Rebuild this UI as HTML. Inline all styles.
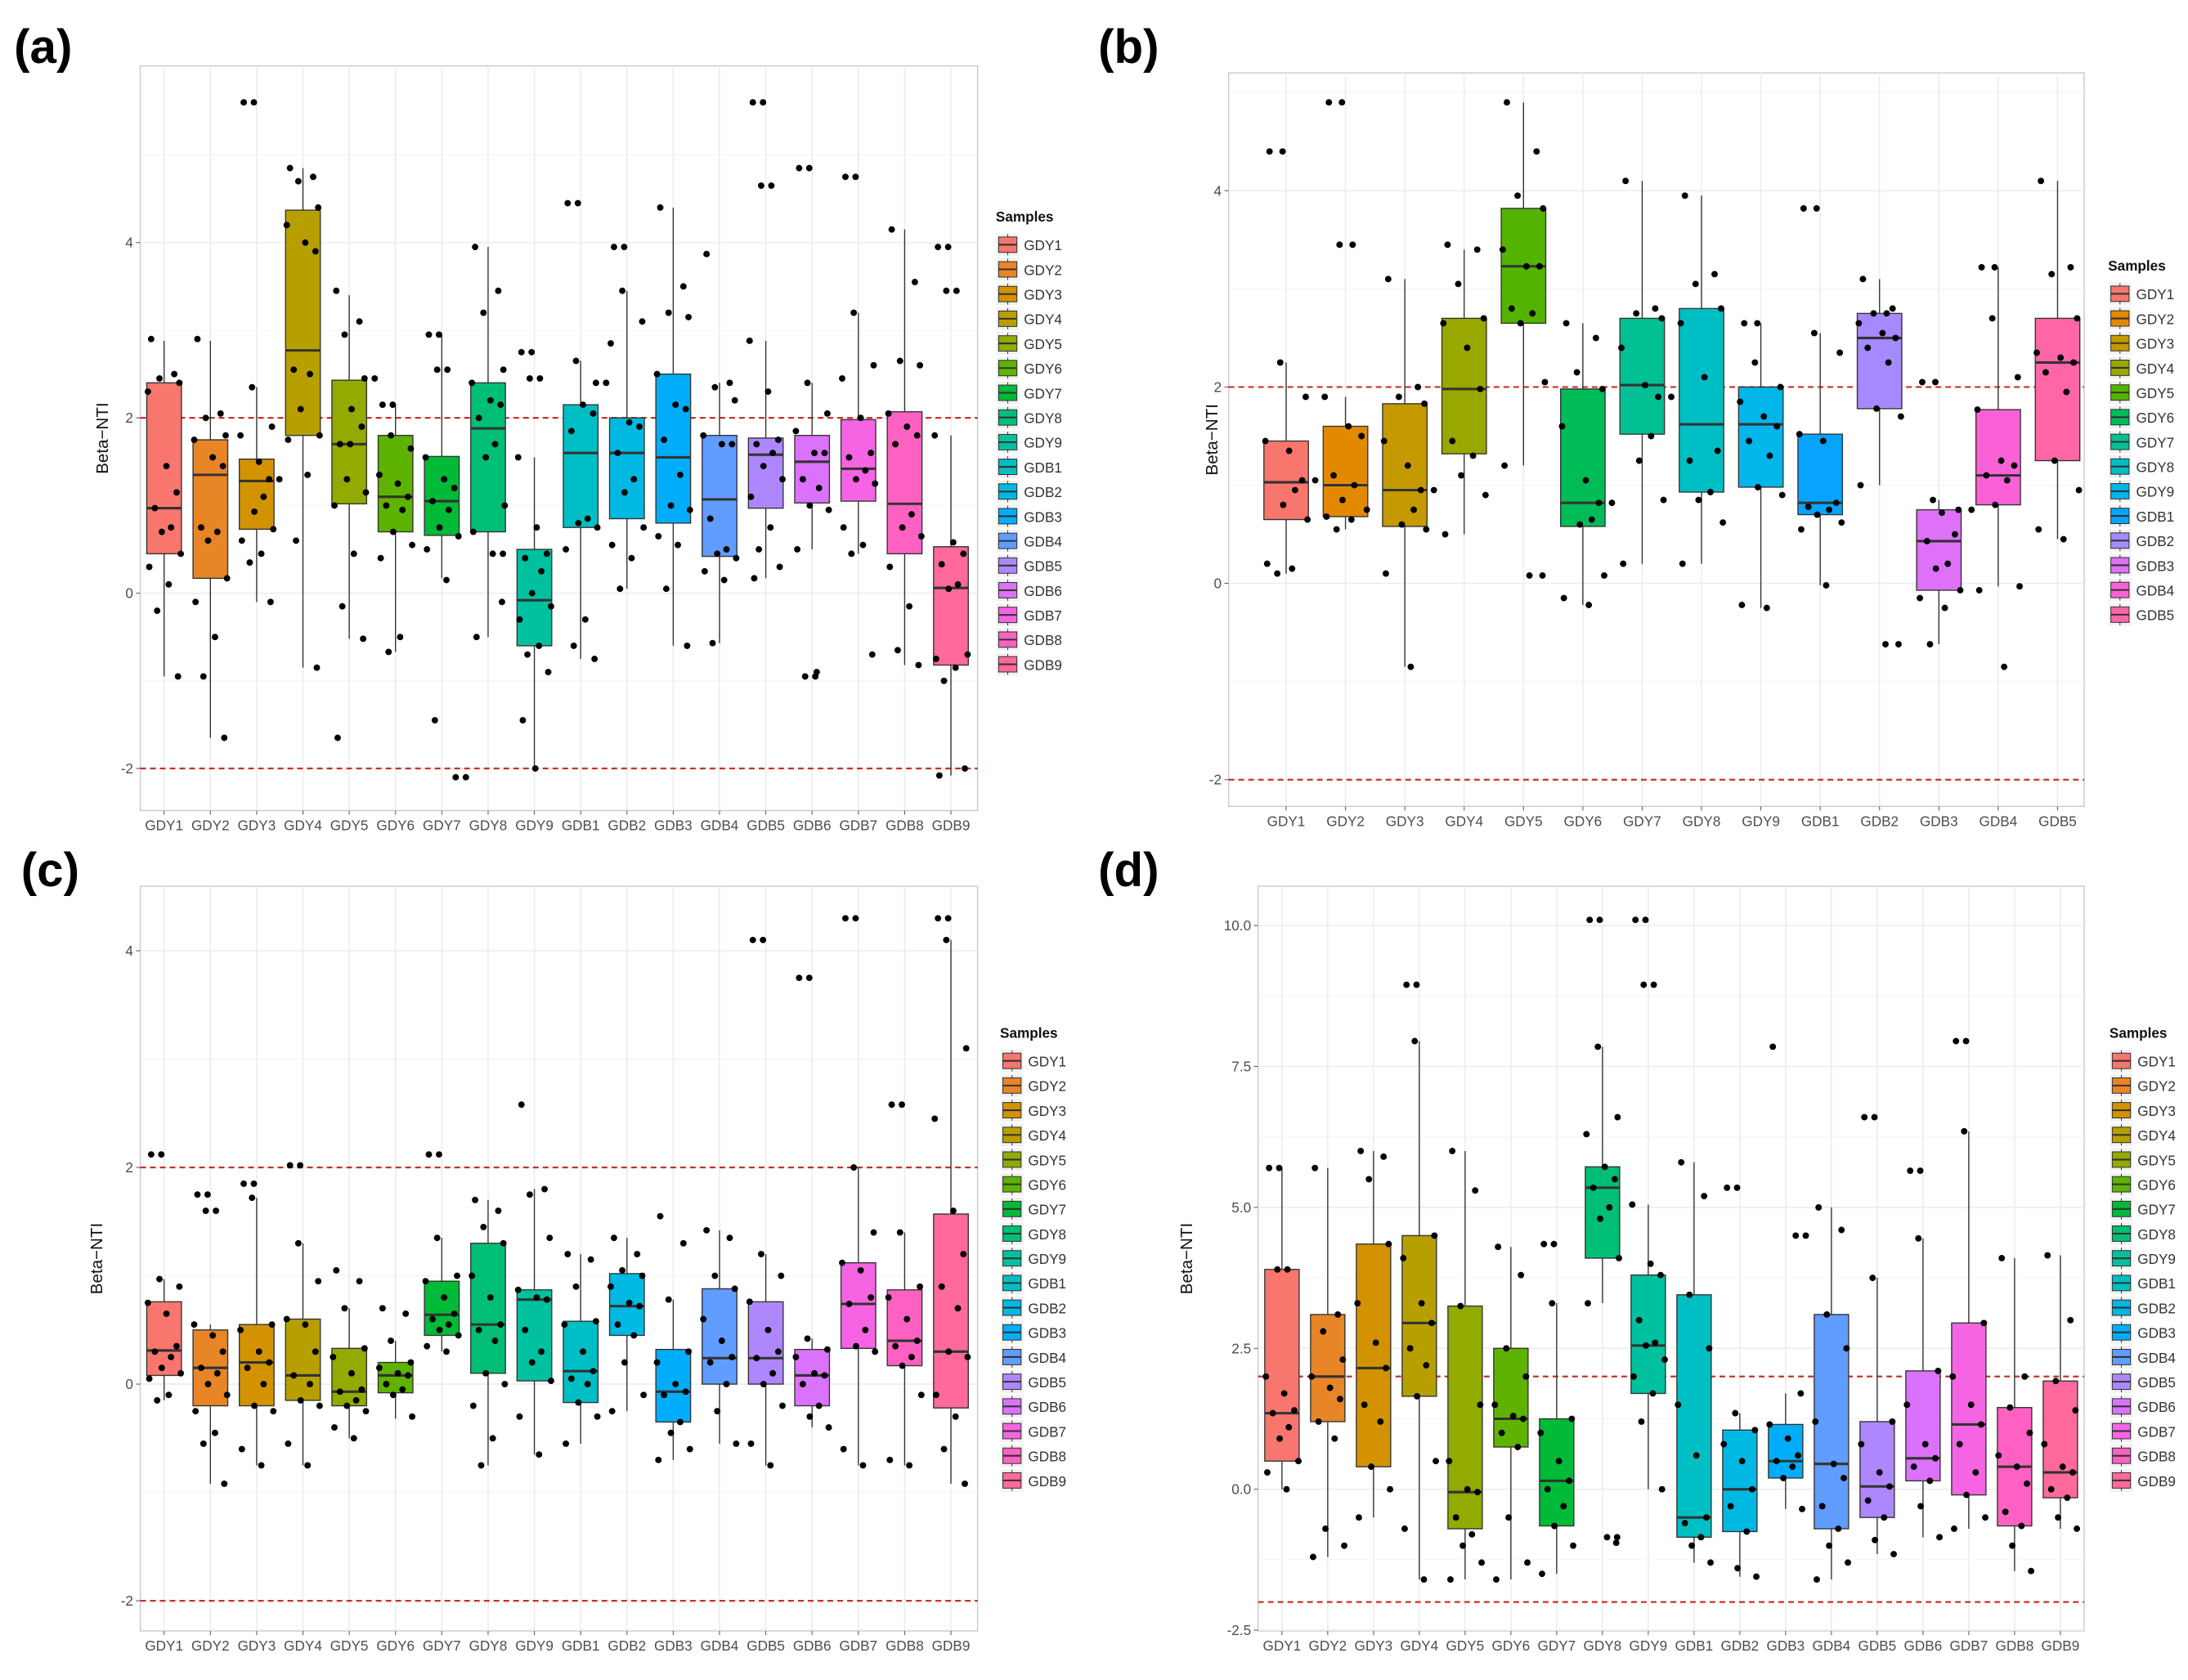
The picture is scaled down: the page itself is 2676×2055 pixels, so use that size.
<!DOCTYPE html>
<html><head><meta charset="utf-8"><style>
html,body{margin:0;padding:0;background:#fff;}
svg{display:block;font-family:"Liberation Sans",Arial,sans-serif;}
</style></head><body>
<svg id="fig" width="2676" height="2055" viewBox="0 0 1560 1198" preserveAspectRatio="none" xmlns="http://www.w3.org/2000/svg"></svg>
<script>
// ---------- DATA ----------
const catsA = ["GDY1","GDY2","GDY3","GDY4","GDY5","GDY6","GDY7","GDY8","GDY9","GDB1","GDB2","GDB3","GDB4","GDB5","GDB6","GDB7","GDB8","GDB9"];
const catsB = ["GDY1","GDY2","GDY3","GDY4","GDY5","GDY6","GDY7","GDY8","GDY9","GDB1","GDB2","GDB3","GDB4","GDB5"];
// box stats: [whiskerLow, q1, median, q3, whiskerHigh]
const boxA = [[-0.95,0.45,0.97,2.4,2.88],[-1.65,0.17,1.35,1.75,2.88],[-0.1,0.73,1.28,1.53,2.35],[-0.85,1.8,2.77,4.37,4.85],[-0.52,1.02,1.7,2.43,3.4],[-0.67,0.7,1.1,1.8,2.15],[0.17,0.66,1.05,1.56,2.95],[-0.5,0.7,1.88,2.4,3.95],[-2.0,-0.6,-0.08,0.5,1.55],[-0.75,0.75,1.6,2.15,2.65],[0.05,0.85,1.6,2.0,3.45],[-0.6,0.8,1.55,2.5,4.4],[-0.57,0.42,1.07,1.8,2.4],[0.17,0.97,1.58,1.77,2.88],[0.5,1.03,1.5,1.8,2.4],[0.45,1.05,1.42,1.98,3.2],[-0.82,0.45,1.02,2.07,4.15],[-2.08,-0.82,0.06,0.53,1.8]];
const ptsA = [[2.9,2.5,2.45,2.4,2.3,1.45,1.15,0.97,0.75,0.7,0.45,0.3,0.1,-0.2,-0.95],[2.9,2.05,2.0,1.8,1.75,1.55,1.45,0.75,0.7,0.6,0.17,-0.1,-0.5,-0.95,-1.65],[5.6,5.6,2.35,1.9,1.8,1.5,1.3,1.3,1.1,0.93,0.73,0.6,0.45,0.35,-0.1],[4.85,4.75,4.7,4.4,4.2,4.0,3.9,2.55,2.5,2.1,1.8,1.75,1.35,0.6,-0.85],[3.45,3.1,2.95,2.45,2.45,2.1,1.9,1.7,1.7,1.3,1.15,1.0,0.45,-0.15,-0.52,-1.65],[2.15,2.15,1.8,1.65,1.35,1.25,1.1,1.0,0.95,0.7,0.55,0.4,-0.5,-0.67],[2.95,2.95,2.55,2.55,1.55,1.3,1.2,1.05,0.95,0.75,0.65,0.5,0.15,-1.45,-2.1,-2.1],[3.95,3.45,3.2,2.55,2.4,2.2,2.15,2.0,1.7,1.55,1.0,0.7,0.45,0.45,-0.1,-0.5],[2.75,2.75,2.45,2.45,1.55,0.75,0.45,0.4,0.25,0.0,-0.15,-0.3,-0.6,-0.7,-0.9,-1.45,-2.0],[4.45,4.45,2.65,2.4,2.4,2.15,2.05,1.85,0.85,0.8,0.75,0.5,-0.3,-0.6,-0.75],[3.95,3.95,3.45,3.1,2.85,1.95,1.9,1.6,1.3,1.15,0.75,0.55,0.4,0.05],[4.4,3.5,3.2,3.15,2.5,2.15,2.1,1.75,1.35,1.0,0.95,0.65,0.55,0.05,-0.6],[3.87,2.4,2.35,2.2,1.8,1.7,1.7,0.85,0.5,0.45,0.4,0.25,0.15,-0.57],[5.6,5.6,4.65,4.65,2.88,2.3,1.75,1.7,1.6,1.45,1.3,1.1,0.75,0.5,0.3,0.17],[4.85,4.85,2.4,2.05,1.85,1.6,1.6,1.3,1.2,1.0,0.95,0.5,-0.9,-0.95,-0.95],[4.75,4.75,3.2,2.6,2.45,2.0,1.6,1.55,1.4,1.3,1.25,0.75,0.55,0.45,-0.7],[4.15,3.55,2.65,2.6,2.05,1.9,1.8,1.7,0.9,0.75,0.65,0.3,-0.15,-0.65,-0.82],[3.95,3.95,3.45,3.45,1.8,0.58,0.45,0.33,0.1,0.05,-0.7,-0.75,-0.85,-1.0,-2.0,-2.08]];
const boxB = [[0.1,0.65,1.03,1.45,2.25],[0.55,0.68,1.0,1.6,1.9],[-0.85,0.58,0.95,1.83,3.1],[0.5,1.32,1.98,2.7,3.4],[1.2,2.65,3.23,3.82,4.9],[-0.22,0.58,0.82,1.98,2.65],[0.2,1.52,2.02,2.7,4.1],[0.2,0.93,1.62,2.8,3.95],[-0.25,0.98,1.62,2.0,2.65],[-0.02,0.7,0.82,1.52,2.55],[1.0,1.78,2.5,2.75,3.1],[-0.62,-0.07,0.43,0.75,0.85],[-0.03,0.8,1.1,1.77,3.22],[0.45,1.25,2.25,2.7,4.1]];
const ptsB = [[4.4,4.4,2.25,1.9,1.45,1.35,1.05,1.05,0.95,0.8,0.65,0.2,0.15,0.1],[4.9,4.9,3.45,3.45,1.9,1.6,1.5,1.1,1.0,0.85,0.75,0.68,0.65,0.55],[3.1,2.0,1.9,1.83,1.45,1.2,0.95,0.95,0.75,0.6,0.55,0.1,-0.85],[3.45,3.4,3.05,2.7,2.65,2.4,1.98,1.45,1.3,1.1,0.9,0.5],[4.9,4.4,3.95,3.82,3.4,3.23,3.23,2.8,2.75,2.65,2.05,1.2,0.08,0.08],[2.65,2.5,2.15,1.98,1.6,1.05,0.82,0.82,0.65,0.6,0.08,-0.15,-0.22],[4.1,2.8,2.75,2.7,2.4,2.02,1.9,1.9,1.5,1.25,0.85,0.2],[3.95,3.15,3.05,2.8,2.65,2.1,1.35,1.25,0.93,0.85,0.62,0.2],[2.65,2.65,2.25,2.0,1.85,1.7,1.6,1.45,1.3,0.98,0.9,-0.22,-0.25],[3.82,3.82,2.55,2.35,1.52,1.45,0.82,0.78,0.75,0.7,0.62,0.55,-0.02],[3.1,2.8,2.75,2.75,2.65,2.55,2.5,2.4,2.25,1.78,1.7,1.0,-0.62,-0.62],[2.05,2.05,0.85,0.75,0.75,0.72,0.5,0.43,0.2,0.15,-0.07,-0.15,-0.25,-0.62],[3.22,3.22,2.7,2.1,1.77,1.25,1.2,1.1,1.05,0.8,-0.03,-0.07,-0.85],[4.1,3.22,3.15,2.7,2.35,2.3,2.25,2.15,1.95,1.25,0.95,0.55,0.45]];
const boxC = [[-0.15,0.08,0.31,0.76,0.97],[-0.92,-0.2,0.15,0.5,0.55],[-0.75,-0.2,0.2,0.55,1.72],[-0.75,-0.15,0.08,0.6,1.3],[-0.5,-0.2,-0.07,0.33,0.7],[-0.32,-0.08,0.08,0.2,0.4],[0.3,0.45,0.64,0.95,1.35],[-0.75,0.1,0.55,1.3,1.7],[-0.65,0.03,0.78,0.87,1.8],[-0.55,-0.17,0.12,0.58,1.2],[-0.25,0.45,0.72,1.02,1.35],[-0.7,-0.35,-0.07,0.32,0.78],[-0.55,0.0,0.24,0.88,1.42],[-0.75,0.0,0.24,0.76,1.2],[-0.4,-0.2,0.08,0.32,0.42],[-0.75,0.33,0.74,1.12,2.0],[-0.75,0.17,0.4,0.87,1.4],[-0.92,-0.22,0.3,1.57,4.1]];
const ptsC = [[2.12,2.12,0.97,0.9,0.75,0.65,0.35,0.3,0.25,0.15,0.1,0.05,-0.1,-0.15],[1.75,1.75,1.6,1.6,0.55,0.45,0.3,0.15,0.1,0.0,-0.1,-0.25,-0.45,-0.55,-0.92],[1.85,1.85,1.72,0.55,0.5,0.3,0.2,0.15,0.0,-0.2,-0.25,-0.6,-0.75],[2.02,2.02,1.3,0.95,0.6,0.55,0.3,0.08,0.0,-0.15,-0.2,-0.55,-0.75],[1.05,0.95,0.7,0.33,0.25,0.1,-0.05,-0.07,-0.15,-0.2,-0.25,-0.4,-0.5],[0.7,0.65,0.4,0.2,0.15,0.1,0.08,0.0,-0.05,-0.1,-0.3],[2.12,2.12,1.35,1.0,0.95,0.8,0.65,0.6,0.55,0.5,0.45,0.35,0.3],[1.7,1.6,1.45,1.3,1.0,0.8,0.55,0.5,0.4,0.1,0.0,-0.2,-0.5,-0.75],[2.58,1.8,1.75,1.35,0.87,0.8,0.78,0.5,0.3,0.2,0.03,-0.3,-0.65],[1.2,1.15,0.9,0.58,0.55,0.3,0.12,0.05,0.0,-0.17,-0.3,-0.55],[1.35,1.2,1.05,1.0,0.9,0.75,0.72,0.55,0.45,0.2,-0.1,-0.25],[1.55,1.3,0.78,0.3,0.2,0.0,-0.07,-0.1,-0.35,-0.45,-0.6,-0.7],[1.42,1.35,1.0,0.88,0.6,0.4,0.25,0.2,0.0,-0.25,-0.55],[4.1,4.1,1.2,1.0,0.76,0.5,0.3,0.24,0.1,0.0,-0.2,-0.55,-0.75],[3.75,3.75,0.42,0.32,0.25,0.1,0.08,0.0,-0.2,-0.3,-0.4],[4.3,4.3,2.0,1.4,1.12,1.05,0.8,0.74,0.5,0.35,0.3,-0.6,-0.75],[2.58,2.58,1.4,0.9,0.8,0.6,0.4,0.35,0.25,0.17,-0.1,-0.7,-0.75],[4.3,4.3,4.1,3.1,2.45,1.6,1.2,0.9,0.7,0.3,0.25,-0.1,-0.3,-0.6,-0.92]];
const boxD = [[0.0,0.5,1.35,3.9,5.7],[-1.2,1.2,2.0,3.1,5.7],[-0.5,0.4,2.15,4.35,6.0],[-1.6,1.65,2.95,4.5,7.95],[-1.6,-0.7,-0.05,3.25,6.0],[-1.6,0.75,1.25,2.5,4.3],[-1.5,-0.65,0.15,1.25,3.3],[3.3,4.1,5.35,5.72,7.85],[0.0,1.7,2.55,3.8,5.05],[-1.3,-0.85,-0.5,3.45,5.8],[-1.55,-0.75,0.0,1.05,1.35],[-0.35,0.2,0.5,1.15,1.7],[-1.6,-0.7,0.45,3.1,5.0],[-1.15,-0.5,0.05,1.2,3.75],[-0.85,0.15,0.55,2.1,4.45],[-0.7,-0.1,1.15,2.95,6.35],[-1.45,-0.65,0.4,1.45,4.1],[-0.7,-0.15,0.3,1.92,4.15]];
const ptsD = [[5.7,5.7,3.9,3.9,2.0,1.7,1.4,1.35,1.1,0.9,0.5,0.3,0.0],[5.7,3.1,2.8,2.3,2.0,1.8,1.6,1.2,0.9,-0.7,-1.0,-1.2],[6.0,5.9,5.5,4.35,3.3,2.6,2.15,1.5,1.2,0.4,0.0,-0.5],[8.95,8.95,7.95,4.5,4.1,3.3,2.95,2.5,2.2,1.65,0.5,-0.7,-1.6],[6.0,5.3,3.25,1.5,0.5,0.0,-0.05,-0.5,-0.8,-1.0,-1.3,-1.6],[4.3,3.8,2.5,2.0,1.5,1.3,1.25,1.0,0.75,-0.5,-1.3,-1.6],[4.35,4.35,3.3,1.25,1.0,0.5,0.15,0.0,-0.3,-0.65,-1.0,-1.5],[10.1,10.1,7.85,6.6,6.3,5.72,5.5,5.35,5.0,4.8,4.1,3.3,-0.85,-0.85,-0.95],[10.1,10.1,8.95,8.95,5.05,4.0,3.8,3.0,2.6,2.55,2.3,2.0,1.7,1.2,0.0],[5.8,5.2,3.45,2.5,1.5,0.6,-0.5,-0.6,-0.85,-1.0,-1.3],[5.35,5.35,1.35,1.05,0.8,0.5,0.0,-0.3,-0.75,-1.4,-1.55],[7.85,4.5,4.5,1.7,1.15,0.9,0.6,0.5,0.4,0.2,-0.35],[5.0,4.6,3.1,2.5,1.2,0.45,0.2,-0.3,-0.7,-1.0,-1.3,-1.6],[6.6,6.6,3.75,1.2,0.8,0.3,0.05,-0.2,-0.5,-0.9,-1.15],[5.65,5.65,4.45,2.1,1.5,0.8,0.55,0.4,0.15,-0.3,-0.85],[7.95,7.95,6.35,2.95,2.0,1.5,1.15,0.8,0.3,-0.1,-0.5,-0.7],[4.1,2.0,1.45,1.0,0.6,0.4,0.1,-0.4,-0.65,-1.0,-1.45],[4.15,3.0,1.92,1.4,0.8,0.4,0.3,0.0,-0.15,-0.5,-0.7]];
const ticksABC = [-2,0,2,4];
const tickLabelsABC = ["-2","0","2","4"];
const ticksD = [-2.5,0,2.5,5,7.5,10];
const tickLabelsD = ["-2.5","0.0","2.5","5.0","7.5","10.0"];
const refLines = [2,-2];

// ---------- helpers ----------
const NS="http://www.w3.org/2000/svg";
const svg=document.getElementById('fig');
function mk(tag,attrs,parent){const e=document.createElementNS(NS,tag);for(const k in attrs)e.setAttribute(k,attrs[k]);(parent||svg).appendChild(e);return e;}
function hcl(h){const L=65,C=100,hr=h*Math.PI/180;const u=C*Math.cos(hr),v=C*Math.sin(hr);
 const Y=Math.pow((L+16)/116,3);const un=0.1978398,vn=0.4683363;const up=u/(13*L)+un,vp=v/(13*L)+vn;
 const X=Y*9*up/(4*vp),Z=Y*(12-3*up-20*vp)/(4*vp);
 let r=3.2404542*X-1.5371385*Y-0.4985314*Z,g=-0.9692660*X+1.8760108*Y+0.0415560*Z,b=0.0556434*X-0.2040259*Y+1.0572252*Z;
 const gm=c=>{c=c<=0.0031308?12.92*c:1.055*Math.pow(c,1/2.4)-0.055;return Math.round(255*Math.max(0,Math.min(1,c)));};
 return `rgb(${gm(r)},${gm(g)},${gm(b)})`;}
function palette(n){const a=[];for(let i=0;i<n;i++)a.push(hcl(15+360*i/n));return a;}
const jit=[-0.28,0.22,-0.1,0.33,-0.35,0.05,0.27,-0.2,0.15,-0.05,0.36,-0.32,0.1,-0.15,0.3,-0.25,0.02];

function panel(p){
 const g=mk('g',{});
 
 
 const y=v=>p.yA+(v-p.vA)*(p.yB-p.yA)/(p.vB-p.vA);
 const n=p.cats.length, step=(p.xLast-p.xFirst)/(n-1);
 const x=i=>p.xFirst+i*step;
 const cols=palette(n);
 // background
 const bg=mk('rect',{x:p.x0,y:p.y0,width:p.x1-p.x0,height:p.y1-p.y0,fill:'#fff',stroke:'#c8c8c8','stroke-width':0.8},g);
 
 // minor grid
 for(let i=0;i<p.ticks.length-1;i++){const m=(p.ticks[i]+p.ticks[i+1])/2;mk('line',{x1:p.x0,x2:p.x1,y1:y(m),y2:y(m),stroke:'#f3f3f3','stroke-width':0.6},g);}
 [p.ticks[0]-(p.ticks[1]-p.ticks[0])/2,p.ticks[p.ticks.length-1]+(p.ticks[1]-p.ticks[0])/2].forEach(m=>{if(y(m)>p.y0&&y(m)<p.y1)mk('line',{x1:p.x0,x2:p.x1,y1:y(m),y2:y(m),stroke:'#f3f3f3','stroke-width':0.6},g);});
 // major grid + ticks
 p.ticks.forEach((t,i)=>{mk('line',{x1:p.x0,x2:p.x1,y1:y(t),y2:y(t),stroke:'#ececec','stroke-width':0.9},g);
  mk('line',{x1:p.x0-3,x2:p.x0,y1:y(t),y2:y(t),stroke:'#555','stroke-width':0.6},g);
  const tl=mk('text',{x:p.x0-5,y:y(t)+3.5,'text-anchor':'end','font-size':10,fill:'#4d4d4d'},g);tl.textContent=p.tickLabels[i];
  });
 p.cats.forEach((c,i)=>{mk('line',{x1:x(i),x2:x(i),y1:p.y0,y2:p.y1,stroke:'#ececec','stroke-width':0.9},g);
  mk('line',{x1:x(i),x2:x(i),y1:p.y1,y2:p.y1+3,stroke:'#555','stroke-width':0.6},g);
  const xl=mk('text',{x:x(i),y:p.y1+14,'text-anchor':'middle','font-size':10,fill:'#4d4d4d'},g);xl.textContent=c;
  });
 // ref lines
 refLines.forEach(r=>{const l=mk('line',{x1:p.x0,x2:p.x1,y1:y(r),y2:y(r),stroke:'#c8302c','stroke-width':1.3,'stroke-dasharray':'4,3'},g);
  });
 // boxes
 const bw=step*0.75;
 p.box.forEach((b,i)=>{const cx=x(i);
  const wl=mk('line',{x1:cx,x2:cx,y1:y(b[0]),y2:y(b[4]),stroke:'#333','stroke-width':0.8},g);
  
  const r=mk('rect',{x:cx-bw/2,y:y(b[3]),width:bw,height:y(b[1])-y(b[3]),fill:cols[i],stroke:'#333','stroke-width':0.8},g);
  
  const md=mk('line',{x1:cx-bw/2,x2:cx+bw/2,y1:y(b[2]),y2:y(b[2]),stroke:'#333','stroke-width':1.8},g);
  });
 // points
 p.pts.forEach((arr,i)=>{arr.forEach((v,k)=>{let off=jit[k%jit.length];
   if(k>0&&arr[k-1]===v)off=jit[(k-1)%jit.length]+0.22;
   const c=mk('circle',{cx:x(i)+off*step,cy:y(v),r:2.3,fill:'#000'},g);
   });});
 // axis title
 const yt=mk('text',{x:p.titleX,y:(p.y0+p.y1)/2,'text-anchor':'middle','font-size':12,fill:'#111',transform:`rotate(-90 ${p.titleX} ${(p.y0+p.y1)/2})`},g);
 yt.textContent='Beta\u2212NTI';
 // panel label
 const pl=mk('text',{x:p.labX,y:p.labY,'font-size':34,'font-weight':'bold',fill:'#000'},g);
 pl.textContent=p.label;
 // legend
 const lg=mk('g',{},g);
 const lt=mk('text',{x:p.legX,y:p.legY,'font-size':10,'font-weight':'bold',fill:'#111'},lg);lt.textContent='Samples';
 
 p.cats.forEach((c,i)=>{const ey=p.legY+8+i*17.6;
  const e=mk('g',{},lg);
  mk('rect',{x:p.legX,y:ey,width:17,height:17,fill:'#f2f2f2',stroke:'#fff','stroke-width':0.8},e);
  mk('line',{x1:p.legX+8.5,x2:p.legX+8.5,y1:ey+1,y2:ey+16,stroke:'#333','stroke-width':0.6},e);
  mk('rect',{x:p.legX+2,y:ey+3,width:13,height:11,fill:cols[i],stroke:'#333','stroke-width':0.6},e);
  mk('line',{x1:p.legX+2,x2:p.legX+15,y1:ey+8.5,y2:ey+8.5,stroke:'#333','stroke-width':1.2},e);
  const t=mk('text',{x:p.legX+20,y:ey+12.5,'font-size':10,fill:'#333'},e);t.textContent=c;});
}
panel({name:'panel-a',label:'(a)',labX:10,labY:45,cats:catsA,box:boxA,pts:ptsA,x0:100,x1:697,y0:47,y1:578,yA:423,vA:0,yB:173,vB:4,xFirst:117,xLast:678,ticks:ticksABC,tickLabels:tickLabelsABC,titleX:77,legX:710,legY:158});
panel({name:'panel-b',label:'(b)',labX:783,labY:45,cats:catsB,box:boxB,pts:ptsB,x0:876,x1:1486,y0:52,y1:575,yA:416,vA:0,yB:136,vB:4,xFirst:917,xLast:1467,ticks:ticksABC,tickLabels:tickLabelsABC,titleX:868,legX:1503,legY:193});
panel({name:'panel-c',label:'(c)',labX:15,labY:632,cats:catsA,box:boxC,pts:ptsC,x0:100,x1:697,y0:632,y1:1163,yA:987,vA:0,yB:678,vB:4,xFirst:117,xLast:678,ticks:ticksABC,tickLabels:tickLabelsABC,titleX:73,legX:713,legY:740});
panel({name:'panel-d',label:'(d)',labX:783,labY:632,cats:catsA,box:boxD,pts:ptsD,x0:897,x1:1486,y0:632,y1:1163,yA:1062,vA:0,yB:660,vB:10,xFirst:914,xLast:1469,ticks:ticksD,tickLabels:tickLabelsD,titleX:850,legX:1504,legY:740});
</script>
</body></html>
